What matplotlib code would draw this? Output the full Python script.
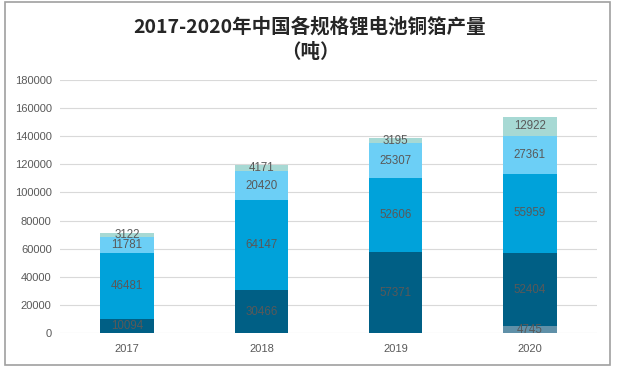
import matplotlib.pyplot as plt
import numpy as np
from matplotlib.patches import Rectangle

plt.rcParams['font.family'] = ['Noto Sans CJK SC', 'DejaVu Sans']

years = ["2017", "2018", "2019", "2020"]
s0 = [0, 0, 0, 4745]
s1 = [10094, 30466, 57371, 52404]
s2 = [46481, 64147, 52606, 55959]
s3 = [11781, 20420, 25307, 27361]
s4 = [3122, 4171, 3195, 12922]
series = [s0, s1, s2, s3, s4]
colors = ["#5f90a8", "#005f85", "#00a2da", "#6ccff6", "#a7d9d4"]

fig = plt.figure(figsize=(6.2, 3.72), dpi=100)
ax = fig.add_axes([60 / 620, 1 - 333 / 372, 537 / 620, 253 / 372])

x = np.arange(len(years))
bottom = np.zeros(len(years))
for vals, c in zip(series, colors):
    vals = np.array(vals)
    ax.bar(x, vals, bottom=bottom, width=0.4, color=c, zorder=2)
    for xi, b, v in zip(x, bottom, vals):
        if v > 0:
            ax.text(xi, b + v / 2, str(v), ha='center', va='center',
                    fontsize=8.3, color='#595959', family='Liberation Sans', zorder=3)
    bottom += vals

ax.set_xlim(-0.5, 3.5)
ax.set_ylim(0, 180000)
ax.set_yticks(np.arange(0, 180001, 20000))
ax.set_yticklabels([str(v) for v in range(0, 180001, 20000)])
ax.set_xticks(x)
ax.set_xticklabels(years)
ax.grid(axis='y', color='#d9d9d9', lw=0.8, zorder=0)
for s in ax.spines.values():
    s.set_visible(False)
ax.tick_params(length=0, labelsize=8, colors='#595959', pad=8)
ax.tick_params(axis='y', pad=6)
for lab in ax.get_xticklabels() + ax.get_yticklabels():
    lab.set_family('Liberation Sans')

fig.text(0.5, 1 - 27 / 372, "2017-2020年中国各规格锂电池铜箔产量", ha='center', va='center',
         fontsize=14, fontweight='bold', color='#262626')
fig.text(0.5, 1 - 53 / 372, "（吨）", ha='center', va='center',
         fontsize=14, fontweight='bold', color='#262626')

fig.patches.append(Rectangle((5 / 620, 1 - 365 / 372), 605 / 620, 363 / 372,
                             transform=fig.transFigure, fill=False,
                             edgecolor='#a0a0a0', lw=1.2))

fig.savefig("out.png", dpi=100)
